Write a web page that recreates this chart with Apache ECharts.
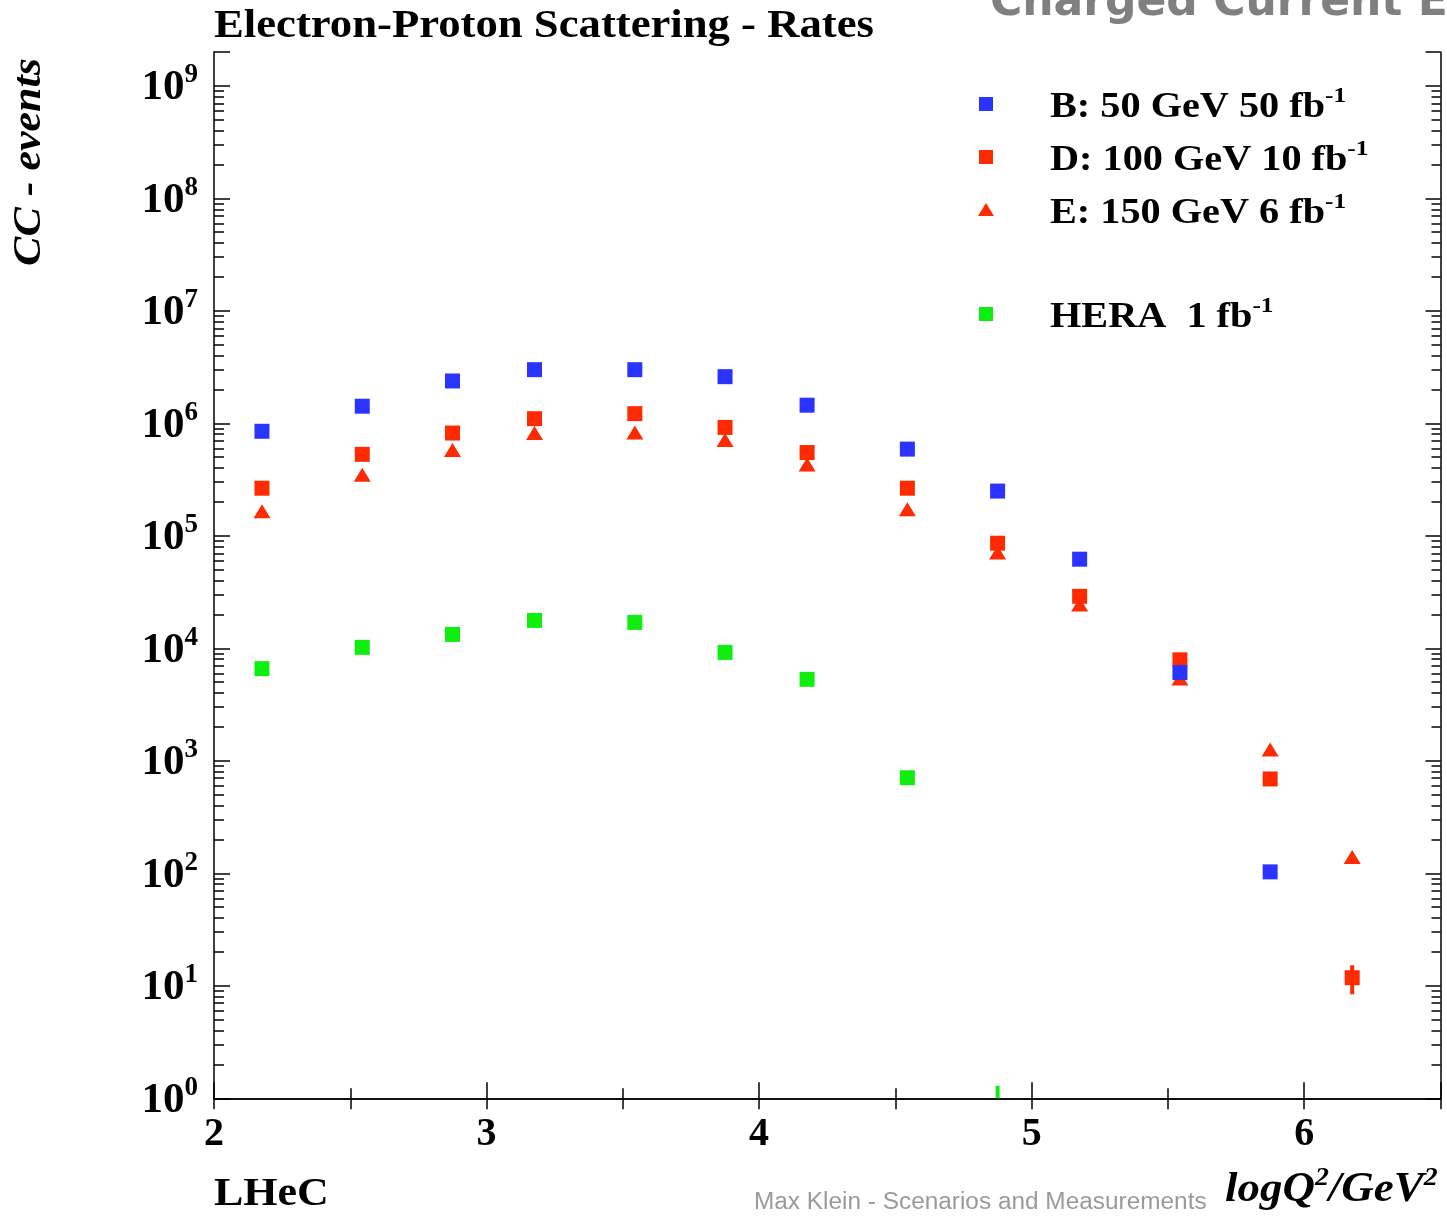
<!DOCTYPE html>
<html>
<head>
<meta charset="utf-8">
<script src="https://cdn.jsdelivr.net/npm/echarts@6/dist/echarts.min.js"></script>
<style>
html,body{margin:0;padding:0;background:#fff;}
#chart{width:1447px;height:1225px;}
</style>
</head>
<body>
<div id="chart"></div>
<script>
// log10(Q^2/GeV^2) bin centres
var xVals = [2.176, 2.544, 2.875, 3.176, 3.544, 3.875, 4.176, 4.544, 4.875, 5.176, 5.544, 5.875, 6.176];
// CC event counts
var seriesB = [8.5e5, 1.42e6, 2.38e6, 3.0e6, 3.0e6, 2.6e6, 1.45e6, 5.9e5, 2.5e5, 6.2e4, 6.1e3, 103, null];
var seriesD = [2.65e5, 5.3e5, 8.2e5, 1.1e6, 1.22e6, 9.2e5, 5.5e5, 2.65e5, 8.6e4, 2.9e4, 7.9e3, 690, 11.8];
var seriesE = [1.65e5, 3.5e5, 5.8e5, 8.2e5, 8.3e5, 7.1e5, 4.3e5, 1.72e5, 7.1e4, 2.45e4, 5.4e3, 1.26e3, 140];
var seriesHERA = [6.6e3, 1.02e4, 1.33e4, 1.77e4, 1.70e4, 9.2e3, 5.3e3, 707, 0.55, null, null, null, null];
// visible error bars: [x, low, high]
var errD = [[6.176, 8.4, 15.2]];
var errHERA = [[4.875, 0.2, 1.29]];
var legendNames = ['B: 50 GeV 50 fb', 'D: 100 GeV 10 fb', 'E: 150 GeV 6 fb', 'HERA  1 fb'];
var xTickLabels = ['2', '3', '4', '5', '6'];
var yExponents = [0, 1, 2, 3, 4, 5, 6, 7, 8, 9];

var BLUE = '#2b34ff', RED = '#ff2a00', GREEN = '#10ee10';
var SERIF = '"Liberation Serif", "Times New Roman", serif';
var Y_MAX = Math.log10(2.0e9);

function toPts(vals) {
  var out = [];
  for (var i = 0; i < xVals.length; i++) {
    if (vals[i] != null) out.push([xVals[i], Math.log10(vals[i])]);
  }
  return out;
}
function toErr(arr) {
  return arr.map(function (e) { return [e[0], Math.log10(e[1]), Math.log10(e[2])]; });
}
var minorY = [];
for (var n = 0; n < 10; n++) {
  for (var k = 2; k <= 9; k++) {
    var v = n + Math.log10(k);
    if (v < Y_MAX) minorY.push(v);
  }
}

function errRender(color) {
  return function (params, api) {
    var p1 = api.coord([api.value(0), api.value(1)]);
    var p2 = api.coord([api.value(0), api.value(2)]);
    return {
      type: 'line',
      shape: { x1: p1[0], y1: p1[1], x2: p2[0], y2: p2[1] },
      style: { stroke: color, lineWidth: 4 }
    };
  };
}

var chart = echarts.init(document.getElementById('chart'), null, { renderer: 'canvas' });
var axisLineStyle = { color: '#000', width: 1.5 };

var option = {
  animation: false,
  backgroundColor: '#fff',
  grid: { left: 214, right: 6.5, top: 52, bottom: 126.7, containLabel: false },
  xAxis: [
    {
      type: 'value', min: 2, max: 6.5, interval: 1, position: 'bottom',
      axisLine: { lineStyle: axisLineStyle },
      axisTick: { inside: true, length: 16, lineStyle: { color: '#000', width: 1.5 } },
      minorTick: { show: true, splitNumber: 2, length: 10, lineStyle: { color: '#000', width: 1.5 } },
      splitLine: { show: false },
      axisLabel: {
        margin: 16, fontFamily: SERIF, fontWeight: 'bold', fontSize: 40, color: '#000',
        formatter: function (v) { return xTickLabels.indexOf(String(v)) >= 0 ? String(v) : ''; }
      }
    },
    {
      type: 'value', min: 2, max: 6.5, interval: 0.5, position: 'top',
      axisLine: { lineStyle: axisLineStyle },
      axisTick: { inside: true, length: 11, lineStyle: { color: '#000', width: 1.5 } },
      splitLine: { show: false }, axisLabel: { show: false }
    }
  ],
  yAxis: [
    {
      type: 'value', min: 0, max: Y_MAX, interval: 1, position: 'left',
      axisLine: { onZero: false, lineStyle: axisLineStyle },
      axisTick: { inside: true, length: 16, lineStyle: { color: '#000', width: 1.5 } },
      splitLine: { show: false },
      axisLabel: {
        margin: 16, color: '#000',
        formatter: function (v) {
          return yExponents.indexOf(v) >= 0 ? '{b|10}{s|' + v + '}' : '';
        },
        rich: {
          b: { fontFamily: SERIF, fontWeight: 'bold', fontSize: 43, lineHeight: 48, verticalAlign: 'bottom', color: '#000' },
          s: { fontFamily: SERIF, fontWeight: 'bold', fontSize: 27, lineHeight: 27, verticalAlign: 'top', color: '#000' }
        }
      }
    },
    {
      type: 'value', min: 0, max: Y_MAX, position: 'left',
      axisLine: { show: false },
      axisTick: { show: true, inside: true, length: 10, customValues: minorY, lineStyle: { color: '#000', width: 1.5 } },
      axisLabel: { show: false }, splitLine: { show: false }
    },
    {
      type: 'value', min: 0, max: Y_MAX, interval: 1, position: 'right',
      axisLine: { onZero: false, lineStyle: axisLineStyle },
      axisTick: { inside: true, length: 15, lineStyle: { color: '#000', width: 1.5 } },
      axisLabel: { show: false }, splitLine: { show: false }
    },
    {
      type: 'value', min: 0, max: Y_MAX, position: 'right',
      axisLine: { show: false },
      axisTick: { show: true, inside: true, length: 9, customValues: minorY, lineStyle: { color: '#000', width: 1.5 } },
      axisLabel: { show: false }, splitLine: { show: false }
    }
  ],
  series: [
    { type: 'custom', name: 'errD', renderItem: errRender(RED), data: toErr(errD), clip: true, z: 2, encode: { x: 0, y: [1, 2] } },
    { type: 'custom', name: 'errHERA', renderItem: errRender(GREEN), data: toErr(errHERA), clip: true, z: 2, encode: { x: 0, y: [1, 2] } },
    { type: 'scatter', name: legendNames[3], data: toPts(seriesHERA), symbol: 'rect', symbolSize: 15, itemStyle: { color: GREEN, opacity: 1 }, clip: true, z: 3 },
    { type: 'scatter', name: legendNames[2], data: toPts(seriesE), symbol: 'triangle', symbolSize: [17, 14], itemStyle: { color: RED, opacity: 1 }, clip: true, z: 3 },
    { type: 'scatter', name: legendNames[1], data: toPts(seriesD), symbol: 'rect', symbolSize: 15, itemStyle: { color: RED, opacity: 1 }, clip: true, z: 4 },
    { type: 'scatter', name: legendNames[0], data: toPts(seriesB), symbol: 'rect', symbolSize: 15, itemStyle: { color: BLUE, opacity: 1 }, clip: true, z: 5 }
  ],
  graphic: []
};

// legend (drawn as graphics)
var legendRows = [
  { y: 104, name: legendNames[0], color: BLUE, shape: 'rect' },
  { y: 157, name: legendNames[1], color: RED, shape: 'rect' },
  { y: 210, name: legendNames[2], color: RED, shape: 'tri' },
  { y: 314, name: legendNames[3], color: GREEN, shape: 'rect' }
];
legendRows.forEach(function (r) {
  if (r.shape === 'rect') {
    option.graphic.push({ type: 'rect', shape: { x: 979, y: r.y - 7, width: 14, height: 14 }, style: { fill: r.color } });
  } else {
    option.graphic.push({ type: 'polygon', shape: { points: [[978, r.y + 6], [994, r.y + 6], [986, r.y - 7]] }, style: { fill: r.color } });
  }
  option.graphic.push({
    type: 'text', x: 1050, y: r.y - 19, scaleX: 1.15,
    style: {
      text: '{t|' + r.name + '}{s|-1}',
      rich: {
        t: { fontFamily: SERIF, fontWeight: 'bold', fontSize: 35, lineHeight: 40, verticalAlign: 'bottom', fill: '#000' },
        s: { fontFamily: SERIF, fontWeight: 'bold', fontSize: 22, lineHeight: 22, verticalAlign: 'top', fill: '#000' }
      }
    }
  });
});

option.graphic.push(
  { type: 'text', x: 214, y: 7, scaleX: 1.146, style: { text: 'Electron-Proton Scattering - Rates', font: 'bold 39px ' + SERIF, fill: '#000' } },
  { type: 'text', x: 990, y: -18, style: { text: 'Charged Current Events', font: 'bold 44px "DejaVu Sans", sans-serif', fill: '#808080' } },
  { type: 'text', x: 30, y: 162, rotation: Math.PI / 2, scaleX: 1.1, style: { text: 'CC - events', font: 'italic bold 40px ' + SERIF, fill: '#000', align: 'center', verticalAlign: 'middle' } },
  { type: 'text', x: 214, y: 1175, scaleX: 1.1, style: { text: 'LHeC', font: 'bold 40px ' + SERIF, fill: '#000' } },
  { type: 'text', x: 754, y: 1191, scaleX: 1.06, style: { text: 'Max Klein - Scenarios and Measurements', font: '23px "Liberation Sans", Arial, sans-serif', fill: '#9a9a9a' } },
  {
    type: 'text', x: 1225, y: 1165, scaleX: 1.07,
    style: {
      text: '{t|logQ}{s|2}{t|/GeV}{s|2}',
      rich: {
        t: { fontFamily: SERIF, fontWeight: 'bold', fontStyle: 'italic', fontSize: 42, lineHeight: 46, verticalAlign: 'bottom', fill: '#000' },
        s: { fontFamily: SERIF, fontWeight: 'bold', fontStyle: 'italic', fontSize: 26, lineHeight: 26, verticalAlign: 'top', fill: '#000' }
      }
    }
  }
);

chart.setOption(option);
</script>
</body>
</html>
